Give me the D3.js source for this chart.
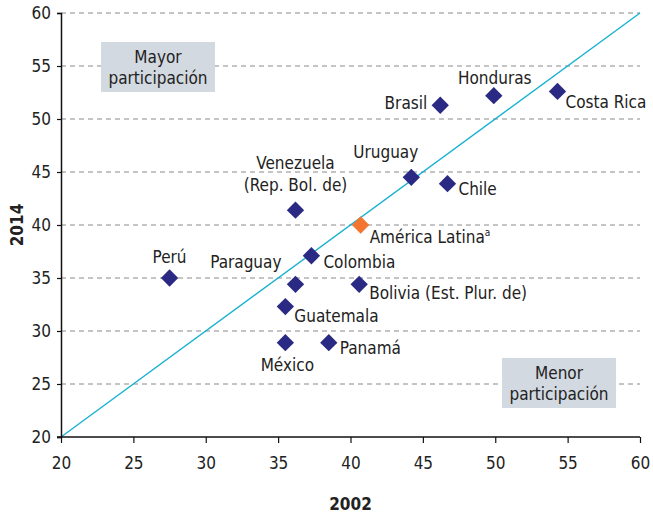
<!DOCTYPE html>
<html>
<head>
<meta charset="utf-8">
<script src="https://cdn.jsdelivr.net/npm/d3@7"></script>
<style>
  body { margin: 0; background: #fff; }
  svg text { font-family: "Liberation Sans Narrow", "DejaVu Sans Condensed", "Roboto", sans-serif; fill: #222; }
</style>
</head>
<body>
<svg id="canvas" width="653" height="514"></svg>
<script>
// Data
var COUNTRIES = ['Perú', 'Venezuela', 'Paraguay', 'Colombia', 'Guatemala', 'México', 'Panamá',
  'Bolivia', 'América Latina', 'Uruguay', 'Chile', 'Brasil', 'Honduras', 'Costa Rica'];
var VALUES_2002 = [27.5, 36.2, 36.2, 37.3, 35.5, 35.5, 38.5, 40.6, 40.7, 44.2, 46.7, 46.2, 49.9, 54.3];
var VALUES_2014 = [35.0, 41.4, 34.4, 37.1, 32.3, 28.9, 28.9, 34.4, 40.0, 44.5, 43.9, 51.3, 52.2, 52.6];
var TICKS = [20, 25, 30, 35, 40, 45, 50, 55, 60];

// Label placement (pixels, relative to the marker)
var LABEL_LAYOUT = {
  'Perú': { lines: ['Perú'], dx: 0, dy: -15, anchor: 'middle' },
  'Venezuela': { lines: ['Venezuela', '(Rep. Bol. de)'], dx: 0, dy: -41, anchor: 'middle' },
  'Paraguay': { lines: ['Paraguay'], dx: -14, dy: -16, anchor: 'end' },
  'Colombia': { lines: ['Colombia'], dx: 12, dy: 12, anchor: 'start' },
  'Guatemala': { lines: ['Guatemala'], dx: 9, dy: 15, anchor: 'start' },
  'México': { lines: ['México'], dx: 2, dy: 28, anchor: 'middle' },
  'Panamá': { lines: ['Panamá'], dx: 11, dy: 11, anchor: 'start' },
  'Bolivia': { lines: ['Bolivia (Est. Plur. de)'], dx: 10, dy: 15, anchor: 'start' },
  'América Latina': { lines: ['América Latina'], dx: 9, dy: 18, anchor: 'start', sup: 'a' },
  'Uruguay': { lines: ['Uruguay'], dx: 7, dy: -19, anchor: 'end' },
  'Chile': { lines: ['Chile'], dx: 11, dy: 11, anchor: 'start' },
  'Brasil': { lines: ['Brasil'], dx: -13, dy: 4, anchor: 'end' },
  'Honduras': { lines: ['Honduras'], dx: 1, dy: -12, anchor: 'middle' },
  'Costa Rica': { lines: ['Costa Rica'], dx: 8, dy: 17, anchor: 'start' }
};

var margin = { top: 13, right: 13, bottom: 77, left: 61 };
var width = 653, height = 514;
var svg = d3.select('#canvas');

var x = d3.scaleLinear().domain([20, 60]).range([margin.left, width - margin.right]);
var y = d3.scaleLinear().domain([20, 60]).range([height - margin.bottom, margin.top]);

// Dashed grid
svg.append('g')
  .selectAll('line')
  .data(TICKS.filter(function (d) { return d > 20; }))
  .enter().append('line')
  .attr('x1', x(20)).attr('x2', x(60))
  .attr('y1', function (d) { return y(d); })
  .attr('y2', function (d) { return y(d); })
  .attr('stroke', '#8a8a8a')
  .attr('stroke-width', 1)
  .attr('stroke-dasharray', '5,4');

// Region boxes
function addBox(cx, cy, lines) {
  var g = svg.append('g');
  g.append('rect')
    .attr('x', cx - 57).attr('y', cy - 25)
    .attr('width', 114).attr('height', 50)
    .attr('fill', '#d2d9e0');
  lines.forEach(function (t, i) {
    g.append('text')
      .attr('x', cx).attr('y', cy - 4 + i * 21)
      .attr('text-anchor', 'middle')
      .attr('font-size', 17)
      .text(t);
  });
}
addBox(158, 67, ['Mayor', 'participación']);
addBox(559, 383, ['Menor', 'participación']);

// Diagonal 45° line
svg.append('line')
  .attr('x1', x(20)).attr('y1', y(20))
  .attr('x2', x(60)).attr('y2', y(60))
  .attr('stroke', '#19b1d2')
  .attr('stroke-width', 1.4);

// Axes
var xAxis = svg.append('g')
  .attr('transform', 'translate(0,' + y(20) + ')')
  .call(d3.axisBottom(x).tickValues(TICKS).tickSize(6).tickPadding(14));
var yAxis = svg.append('g')
  .attr('transform', 'translate(' + x(20) + ',0)')
  .call(d3.axisLeft(y).tickValues(TICKS).tickSize(4).tickPadding(6));

[xAxis, yAxis].forEach(function (ax) {
  ax.select('.domain').attr('stroke', '#111').attr('stroke-width', 1.5);
  ax.selectAll('.tick line').attr('stroke', '#111').attr('stroke-width', 1.2);
  ax.selectAll('.tick text')
    .attr('font-size', 17)
    .attr('font-family', '"Liberation Sans Narrow", "DejaVu Sans Condensed", sans-serif')
    .attr('fill', '#222');
});
xAxis.select('.domain').attr('d', 'M' + (x(20) - 4) + ',0H' + x(60));
xAxis.selectAll('.tick line').attr('y1', 0);

svg.append('text')
  .attr('x', (x(20) + x(60)) / 2).attr('y', 510)
  .attr('text-anchor', 'middle')
  .attr('font-size', 17).attr('font-weight', 'bold')
  .text('2002');

svg.append('text')
  .attr('transform', 'translate(23,' + (y(20) + y(60)) / 2 + ') rotate(-90)')
  .attr('text-anchor', 'middle')
  .attr('font-size', 17).attr('font-weight', 'bold')
  .text('2014');

// Points
var points = COUNTRIES.map(function (c, i) {
  return { name: c, x: VALUES_2002[i], y: VALUES_2014[i] };
});

var diamond = d3.symbol().type(d3.symbolSquare).size(150);

svg.append('g')
  .selectAll('path')
  .data(points)
  .enter().append('path')
  .attr('d', diamond)
  .attr('transform', function (d) { return 'translate(' + x(d.x) + ',' + y(d.y) + ') rotate(45)'; })
  .attr('fill', function (d) { return d.name === 'América Latina' ? '#f37530' : '#2a2a84'; });

// Labels
var labels = svg.append('g');
points.forEach(function (d) {
  var lay = LABEL_LAYOUT[d.name];
  lay.lines.forEach(function (t, i) {
    var txt = labels.append('text')
      .attr('x', x(d.x) + lay.dx)
      .attr('y', y(d.y) + lay.dy + i * 22)
      .attr('text-anchor', lay.anchor)
      .attr('font-size', 17)
      .text(t);
    if (lay.sup) {
      txt.append('tspan')
        .attr('font-size', 10)
        .attr('dy', -7)
        .text(lay.sup);
    }
  });
});
</script>
</body>
</html>
